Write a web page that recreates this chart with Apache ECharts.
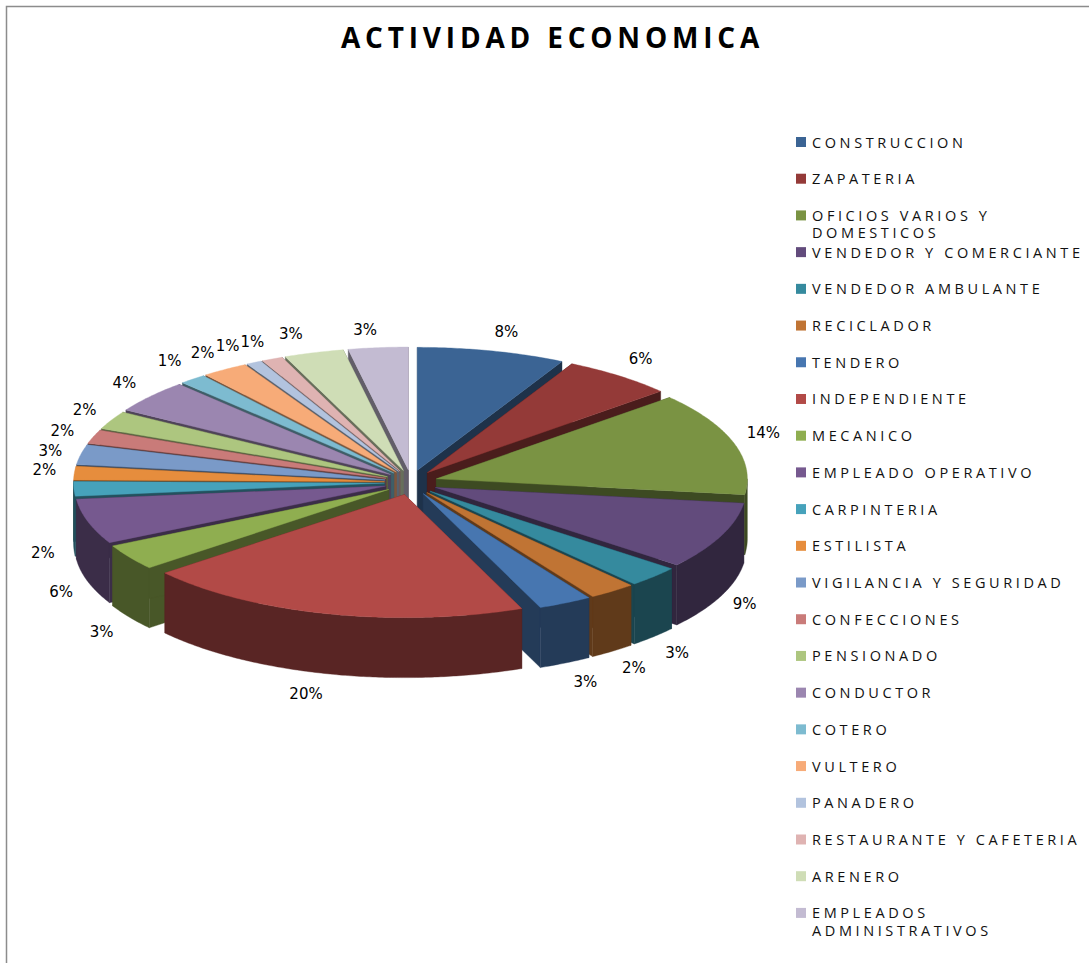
<!DOCTYPE html>
<html>
<head>
<meta charset="utf-8">
<style>
html,body{margin:0;padding:0;background:#fff;overflow:hidden}
#c{width:1089px;height:963px}
#c svg text{letter-spacing:3.6px}
#c svg text[style*="bold"]{letter-spacing:4.8px}
#c svg text[style*="DejaVu"]{letter-spacing:0}
</style>
<script src="https://cdn.jsdelivr.net/npm/echarts@6/dist/echarts.min.js"></script>
</head>
<body>
<div id="c"></div>
<script>
const titleText = 'ACTIVIDAD ECONOMICA';
const categories = ['CONSTRUCCION','ZAPATERIA','OFICIOS VARIOS Y\nDOMESTICOS','VENDEDOR Y COMERCIANTE','VENDEDOR AMBULANTE','RECICLADOR','TENDERO','INDEPENDIENTE','MECANICO','EMPLEADO OPERATIVO','CARPINTERIA','ESTILISTA','VIGILANCIA Y SEGURIDAD','CONFECCIONES','PENSIONADO','CONDUCTOR','COTERO','VULTERO','PANADERO','RESTAURANTE Y CAFETERIA','ARENERO','EMPLEADOS\nADMINISTRATIVOS'];
const values = [7.7,5.8,13.55,8.8,2.75,2.45,2.8,20.15,3.4,5.9,1.9,1.8,2.6,1.8,2.4,4.3,1.4,2.4,0.8,1.1,3.1,3.1];
const colors = ['#3B6494','#943A38','#7A9343','#624B7C','#358A9E','#C07434','#4776B0','#B24A47','#8FAE50','#76598F','#46A2BB','#E68D3D','#7A9AC8','#C97B79','#ADC67F','#9B86B0','#7DBBD0','#F7AB78','#B2C3DE','#DFB3B2','#CFDDB6','#C3BBD2'];

// pie geometry (screen projection of the tilted disc)
const G = {cx:411, cy:482.5, ex:26.5, ey:12.5, rx:311, ry:123, depth:60};
// small per-label layout offsets from the automatic outside position
const labelNudge = [[7,-1],[2,-3],[0,-5],[-5,1],[1,4],[3,2],[6,3],[-15,3],[-2,5],[3,5],[0,3],[1,-2],[0,0],[-2,0],[1,-2],[-2,-2],[-3,-4],[-5,-1],[-12,-1],[-7,-1],[-14,-2],[-10,0]];
const total = values.reduce((a,b)=>a+b,0);
const slices = [];
let acc = 0;
values.forEach(v => {
  const a0 = acc/total*Math.PI*2; acc += v;
  const a1 = acc/total*Math.PI*2;
  slices.push({a0,a1,mid:(a0+a1)/2,pct:Math.round(v/total*100)});
});
function shade(hex,f){
  const n=parseInt(hex.slice(1),16);
  const c=[n>>16,(n>>8)&255,n&255].map(x=>Math.round(x*f));
  return 'rgb('+c.join(',')+')';
}
function drawSlice(i){
  const s=slices[i], col=colors[i], dark=shade(col,0.5), d=G.depth;
  const ax=G.cx+G.ex*Math.sin(s.mid), ay=G.cy-G.ey*Math.cos(s.mid);
  const rim=a=>[ax+G.rx*Math.sin(a), ay-G.ry*Math.cos(a)];
  const down=p=>[p[0],p[1]+d];
  const arc=(a,b)=>{const n=Math.max(2,Math.ceil((b-a)/0.01)),o=[];for(let k=0;k<=n;k++)o.push(rim(a+(b-a)*k/n));return o;};
  const apex=[ax,ay], poly=(pts,fill)=>({type:'polygon',shape:{points:pts},style:{fill:fill,stroke:fill,lineWidth:0.4},silent:true});
  const kids=[];
  [s.a0,s.a1].forEach(a=>{const r=rim(a);kids.push(poly([apex,r,down(r),down(apex)],dark));});
  const w0=Math.max(s.a0,Math.PI/2), w1=Math.min(s.a1,Math.PI*1.5);
  if(w1>w0){const top=arc(w0,w1);kids.push(poly(top.concat(top.map(down).reverse()),dark));}
  kids.push(poly([apex].concat(arc(s.a0,s.a1)),col));
  const m=rim(s.mid), cs=Math.cos(s.mid);
  kids.push({type:'text',silent:true,style:{
    text:s.pct+'%',x:m[0]+31*Math.sin(s.mid)+labelNudge[i][0],y:m[1]-18*cs+(cs<0?d:0)+labelNudge[i][1],
    align:'center',verticalAlign:'middle',fill:'#000',font:'15px "DejaVu Sans"'}});
  return {type:'group',children:kids};
}
const order = slices.map((s,i)=>i).sort((a,b)=>Math.cos(slices[b].mid)-Math.cos(slices[a].mid));
const series = categories.map((name,i)=>({
  type:'custom',name:name,coordinateSystem:'none',z:2+order.indexOf(i)*0.01,
  itemStyle:{color:colors[i]},data:[[values[i]]],renderItem:()=>drawSlice(i),animation:false
}));
const secondLines=[];
categories.forEach((c,i)=>{const p=c.split('\n');if(p[1])secondLines.push({type:'text',left:812,top:142+i*36.71+10,silent:true,style:{text:p[1],fill:'#111',font:'14.5px "Open Sans"'}});});

const chart = echarts.init(document.getElementById('c'),null,{renderer:'svg',width:1089,height:963});
chart.setOption({
  animation:false,backgroundColor:'#fff',
  title:{text:titleText,left:336,top:18,
    textStyle:{fontFamily:'Open Sans',fontWeight:'bold',fontSize:28,color:'#000'}},
  legend:{orient:'vertical',left:796,top:133,itemWidth:10,itemHeight:10,itemGap:18.71,itemStyle:{borderWidth:0},icon:'rect',selectedMode:false,
    data:categories,formatter:n=>n.split('\n')[0],
    textStyle:{fontFamily:'Open Sans',fontSize:14.5,lineHeight:18,color:'#111',padding:[0,0,0,1]},padding:0},
  graphic:[{type:'polyline',silent:true,shape:{points:[[6.5,963],[6.5,6.5],[1089,6.5]]},style:{stroke:'#8c8c8c',lineWidth:1.5,fill:null}}].concat(secondLines),
  series:series
});
</script>
</body>
</html>
